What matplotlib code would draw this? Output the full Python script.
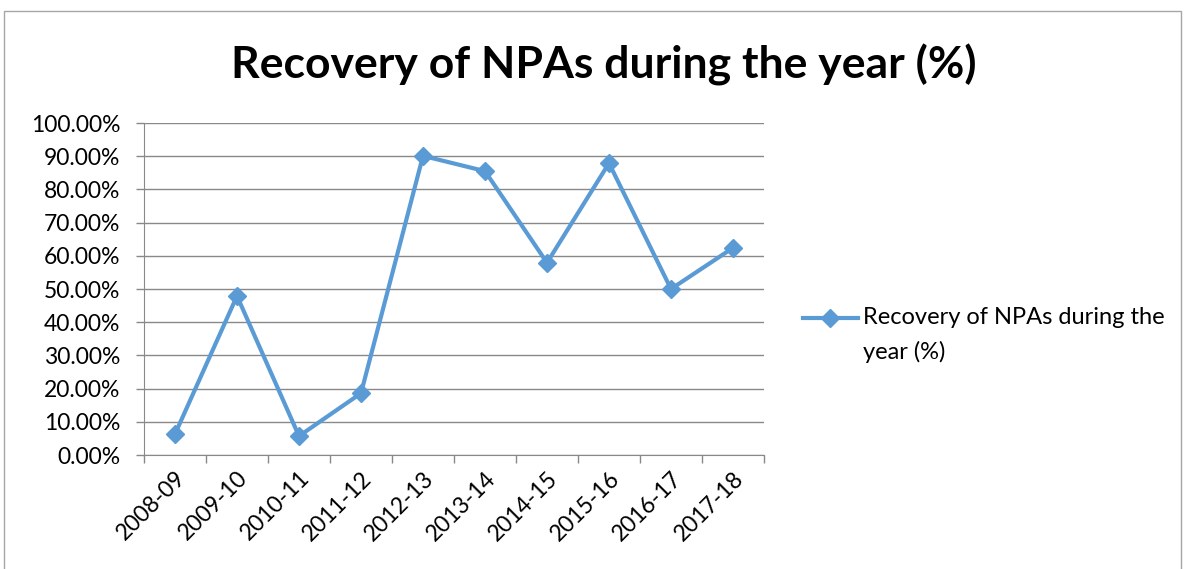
import numpy as np
import matplotlib.pyplot as plt
from matplotlib.lines import Line2D
from matplotlib.patches import Rectangle

# data
years = ['2008-09', '2009-10', '2010-11', '2011-12', '2012-13',
         '2013-14', '2014-15', '2015-16', '2016-17', '2017-18']
recovery = [6.3, 47.9, 5.7, 18.6, 90.1, 85.5, 57.9, 87.9, 50.0, 62.4]
yticks = np.arange(0, 101, 10)
series_name = 'Recovery of NPAs during the year (%)'

blue = '#5B9BD5'
gray = '#898989'
plt.rcParams['font.family'] = ['Lato', 'DejaVu Sans']

fig = plt.figure(figsize=(11.93, 5.69), dpi=100)
W, H = 1193, 569
ax = fig.add_axes([144 / W, 1 - 455 / H, 620 / W, 332 / H])

# outer chart frame
fig.patches.append(Rectangle((4 / W, -0.05), 1177 / W, 1 - 11 / H + 0.05,
                             transform=fig.transFigure, fill=False,
                             edgecolor='#a6a6a6', lw=1))

x = np.arange(len(years))
ax.plot(x, recovery, color=blue, lw=3, marker='D', ms=9, zorder=3)

ax.set_xlim(-0.5, len(years) - 0.5)
ax.set_ylim(0, 100)
ax.set_yticks(yticks)
ax.set_yticklabels(['%.2f%%' % v for v in yticks], fontsize=16.5)
ax.set_xticks(x)
ax.set_xticklabels(years, rotation=45, ha='right', rotation_mode='anchor',
                   fontsize=16.5)
ax.set_xticks(np.arange(len(years) + 1) - 0.5, minor=True)
ax.tick_params(axis='x', which='major', length=0, pad=9)
ax.tick_params(axis='x', which='minor', length=6, color=gray, width=1)
ax.tick_params(axis='y', length=6, color=gray, width=1, pad=11)
ax.grid(axis='y', color=gray, lw=1)
ax.set_axisbelow(True)
for s in ['top', 'right']:
    ax.spines[s].set_visible(False)
for s in ['left', 'bottom']:
    ax.spines[s].set_color(gray)

fig.text(604 / W, 1 - 65 / H, series_name, ha='center', va='center',
         fontsize=32, fontweight='bold')

# legend drawn by hand so the key sits on the first text line
fig.add_artist(Line2D([803 / W, 858 / W], [1 - 318 / H] * 2, color=blue,
                      lw=3, transform=fig.transFigure))
fig.add_artist(Line2D([830 / W], [1 - 318 / H], color=blue, marker='D',
                      ms=9, transform=fig.transFigure))
fig.text(863 / W, 1 - 318 / H, 'Recovery of NPAs during the', ha='left',
         va='center', fontsize=17)
fig.text(863 / W, 1 - 352 / H, 'year (%)', ha='left', va='center',
         fontsize=17)

fig.savefig('out.png', dpi=100)
